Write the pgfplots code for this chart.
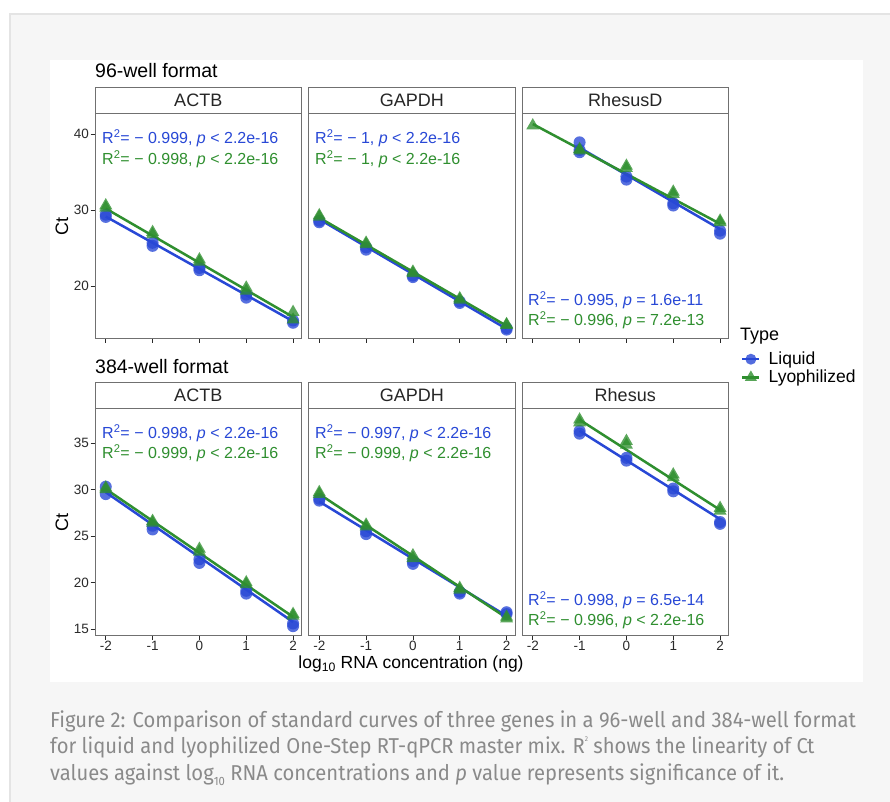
\documentclass[border=0pt]{standalone}
\usepackage{pgfplots}
\pgfplotsset{compat=1.18}
\usepackage{fontspec}
\setmainfont{Liberation Sans}
\newfontfamily\capfont{Fira Sans}[FakeStretch=0.94]
\definecolor{bluec}{HTML}{2848D6}
\definecolor{greenc}{HTML}{2F8F2F}
\definecolor{bordc}{HTML}{707070}
\definecolor{capc}{HTML}{8A8A8A}
\definecolor{bgc}{HTML}{F6F6F6}
\definecolor{bgline}{HTML}{E4E4E4}
\definecolor{tickc}{HTML}{2A2A2A}
\newcommand{\fs}[1]{\fontsize{#1}{#1}\selectfont}

\pgfplotsset{
 panel/.style={
   scale only axis, width=206.5pt,
   xmin=-2.23, xmax=2.18,
   xtick={-2,-1,0,1,2},
   axis line style={draw=bordc, line width=0.9pt},
   major tick style={draw=tickc, line width=0.8pt},
   major tick length=4.5pt,
   tick align=outside,
   tick pos=left,
   ticklabel style={font=\fs{13.5}, text=tickc, inner sep=1.5pt},
   axis background/.style={fill=white},
 },
 toprow/.style={panel, height=225pt, ymin=13.2, ymax=42.75, xticklabels={,,,,}},
 botrow/.style={panel, height=227pt, ymin=14.35, ymax=38.76, xticklabels={-2,-1,0,1,2}},
 liq/.style={only marks, mark=*, mark size=6pt, mark options={fill=bluec, draw=bluec, draw opacity=0, fill opacity=0.78}, forget plot},
 lyo/.style={only marks, mark=triangle*, mark size=7.5pt, mark options={fill=greenc, draw=greenc, draw opacity=0, fill opacity=0.78}, forget plot},
 liqline/.style={no marks, draw=bluec, line width=2.5pt, forget plot},
 lyoline/.style={no marks, draw=greenc, line width=2.5pt, forget plot},
}

\begin{document}
\begin{tikzpicture}
\useasboundingbox (0,0) rectangle (890pt,-801pt);
\fill[white] (0,0) rectangle (890pt,-801pt);
\filldraw[fill=bgc, draw=bgline, line width=1.2pt] (10pt,-14pt) rectangle (900pt,-812pt);
\fill[white] (50pt,-60pt) rectangle (863pt,-682pt);

% ---------- 96-well: ACTB
\begin{axis}[toprow, at={(95pt,-338pt)}, anchor=south west, ytick={20,30,40}, yticklabels={20,30,40}]
\addplot[liq] coordinates {(-2,29.1) (-2,29.4) (-1,25.3) (-1,25.7) (0,22.1) (0,22.4) (1,18.5) (1,18.9) (2,15.2) (2,15.5)};
\addplot[lyo] coordinates {(-2,30.3) (-2,30.6) (-1,26.8) (-1,27.1) (0,23.2) (0,23.5) (1,19.4) (1,19.8) (2,15.6) (2,16.6)};
\addplot[liqline] coordinates {(-2,29.15) (2,15.4)};
\addplot[lyoline] coordinates {(-2,30.2) (2,15.95)};
\end{axis}
% ---------- 96-well: GAPDH
\begin{axis}[toprow, at={(308.5pt,-338pt)}, anchor=south west, ytick=\empty]
\addplot[liq] coordinates {(-2,28.4) (-2,28.6) (-1,24.8) (-1,25.1) (0,21.2) (0,21.4) (1,17.8) (1,18.0) (2,14.3) (2,14.5)};
\addplot[lyo] coordinates {(-2,29.1) (-2,29.3) (-1,25.5) (-1,25.7) (0,21.7) (0,21.9) (1,18.2) (1,18.4) (2,14.9) (2,15.0)};
\addplot[liqline] coordinates {(-2,28.8) (2,14.4)};
\addplot[lyoline] coordinates {(-2,29.0) (2,14.8)};
\end{axis}
% ---------- 96-well: RhesusD
\begin{axis}[toprow, at={(522pt,-338pt)}, anchor=south west, ytick=\empty,
  legend style={draw=none, fill=none, inner sep=0pt, font=\fs{17.5}, text=black,
    at={(axis description cs:1.06,-0.053)}, anchor=north west,
    row sep=0pt, cells={anchor=west},
    /tikz/every odd column/.append style={column sep=6pt}},
  legend cell align=left]
\addplot[liq] coordinates {(-1,38.9) (-1,37.6) (-1,37.9) (0,34.0) (0,34.4) (1,30.6) (1,30.9) (2,26.9) (2,27.3)};
\addplot[lyo] coordinates {(-2,41.1) (-1,37.8) (-1,38.0) (0,35.5) (0,35.8) (1,32.1) (1,32.4) (2,28.4) (2,28.6)};
\addplot[liqline] coordinates {(-1,38.2) (2,27.5)};
\addplot[lyoline] coordinates {(-2,41.3) (2,28.2)};
\addlegendimage{draw=bluec, line width=2.5pt, mark=*, mark size=5.5pt, mark options={fill=bluec, draw opacity=0, fill opacity=0.8}}
\addlegendentry{Liquid}
\addlegendimage{draw=greenc, line width=2.5pt, mark=triangle*, mark size=7pt, mark options={fill=greenc, draw opacity=0, fill opacity=0.8}}
\addlegendentry{Lyophilized}
\end{axis}

% ---------- 384-well: ACTB
\begin{axis}[botrow, at={(95pt,-635pt)}, anchor=south west, ytick={15,20,25,30,35}, yticklabels={15,20,25,30,35}]
\addplot[liq] coordinates {(-2,30.3) (-2,29.5) (-1,25.7) (-1,26.1) (0,22.1) (0,22.5) (1,18.8) (1,19.1) (2,15.3) (2,15.6)};
\addplot[lyo] coordinates {(-2,30.0) (-2,30.2) (-1,26.4) (-1,26.6) (0,23.3) (0,23.6) (1,19.8) (1,20.0) (2,16.4) (2,16.6)};
\addplot[liqline] coordinates {(-2,29.7) (2,15.75)};
\addplot[lyoline] coordinates {(-2,30.05) (2,16.3)};
\end{axis}
% ---------- 384-well: GAPDH
\begin{axis}[botrow, at={(308.5pt,-635pt)}, anchor=south west, ytick=\empty]
\addplot[liq] coordinates {(-2,28.8) (-2,29.0) (-1,25.2) (-1,25.5) (0,22.0) (0,22.3) (1,18.8) (1,19.0) (2,16.6) (2,16.8)};
\addplot[lyo] coordinates {(-2,29.5) (-2,29.7) (-1,26.0) (-1,26.2) (0,22.6) (0,22.9) (1,19.2) (1,19.4) (2,16.1) (2,16.3)};
\addplot[liqline] coordinates {(-2,28.7) (2,16.4)};
\addplot[lyoline] coordinates {(-2,29.5) (2,16.2)};
\end{axis}
% ---------- 384-well: Rhesus
\begin{axis}[botrow, at={(522pt,-635pt)}, anchor=south west, ytick=\empty]
\addplot[liq] coordinates {(-1,36.0) (-1,36.3) (0,33.1) (0,33.4) (1,29.8) (1,30.1) (2,26.3) (2,26.5)};
\addplot[lyo] coordinates {(-1,37.2) (-1,37.5) (0,34.8) (0,35.2) (1,31.3) (1,31.6) (2,27.7) (2,28.0)};
\addplot[liqline] coordinates {(-1,36.3) (2,26.8)};
\addplot[lyoline] coordinates {(-1,37.5) (2,27.8)};
\end{axis}

% ---------- strips
\foreach \l/\r/\t in {95/301.5/ACTB, 308.5/515/GAPDH, 522/728.5/RhesusD}{
  \filldraw[fill=white, draw=bordc, line width=0.9pt] (\l pt,-87pt) rectangle (\r pt,-113pt);
  \node[font=\fs{18}, text=black!85] at ({(\l+\r)/2*1pt},-100pt) {\t};
}
\foreach \l/\r/\t in {95/301.5/ACTB, 308.5/515/GAPDH, 522/728.5/Rhesus}{
  \filldraw[fill=white, draw=bordc, line width=0.9pt] (\l pt,-382pt) rectangle (\r pt,-408pt);
  \node[font=\fs{18}, text=black!85] at ({(\l+\r)/2*1pt},-395pt) {\t};
}

% ---------- titles and labels
\node[font=\fs{19.5}, anchor=base west, inner sep=0pt] at (95pt,-77pt) {96-well format};
\node[font=\fs{19.5}, anchor=base west, inner sep=0pt] at (95pt,-373pt) {384-well format};
\node[font=\fs{18}, rotate=90] at (62pt,-226pt) {Ct};
\node[font=\fs{18}, rotate=90] at (62pt,-522pt) {Ct};
\node[font=\fs{17.5}] at (411pt,-664pt) {log\textsubscript{10} RNA concentration (ng)};
\node[font=\fs{18}, anchor=base west, inner sep=0pt] at (740pt,-340pt) {Type};

% ---------- annotations
\begin{scope}[every node/.style={font=\fs{16}, anchor=west, inner sep=0pt}]
\node[text=bluec]  at (102pt,-138pt) {R\textsuperscript{2}= − 0.999, \textit{p} < 2.2e-16};
\node[text=greenc] at (102pt,-159pt) {R\textsuperscript{2}= − 0.998, \textit{p} < 2.2e-16};
\node[text=bluec]  at (315pt,-138pt) {R\textsuperscript{2}= − 1, \textit{p} < 2.2e-16};
\node[text=greenc] at (315pt,-159pt) {R\textsuperscript{2}= − 1, \textit{p} < 2.2e-16};
\node[text=bluec]  at (528pt,-300pt) {R\textsuperscript{2}= − 0.995, \textit{p} = 1.6e-11};
\node[text=greenc] at (528pt,-320pt) {R\textsuperscript{2}= − 0.996, \textit{p} = 7.2e-13};
\node[text=bluec]  at (102pt,-433pt) {R\textsuperscript{2}= − 0.998, \textit{p} < 2.2e-16};
\node[text=greenc] at (102pt,-453pt) {R\textsuperscript{2}= − 0.999, \textit{p} < 2.2e-16};
\node[text=bluec]  at (315pt,-433pt) {R\textsuperscript{2}= − 0.997, \textit{p} < 2.2e-16};
\node[text=greenc] at (315pt,-453pt) {R\textsuperscript{2}= − 0.999, \textit{p} < 2.2e-16};
\node[text=bluec]  at (528pt,-600pt) {R\textsuperscript{2}= − 0.998, \textit{p} = 6.5e-14};
\node[text=greenc] at (528pt,-620pt) {R\textsuperscript{2}= − 0.996, \textit{p} < 2.2e-16};
\end{scope}

% ---------- caption
\begin{scope}[every node/.style={font=\capfont\fs{21.5}, text=capc, anchor=base west, inner sep=0pt}]
\node at (50pt,-727pt) {Figure 2: Comparison of standard curves of three genes in a 96-well and 384-well format};
\node at (50pt,-753.5pt) {for liquid and lyophilized One-Step RT-qPCR master mix. R\raisebox{1.1ex}{\fs{7}2} shows the linearity of Ct};
\node at (50pt,-780pt) {values against log\raisebox{-0.45ex}{\fs{12}10} RNA concentrations and \textit{p} value represents significance of it.};
\end{scope}
\end{tikzpicture}
\end{document}
